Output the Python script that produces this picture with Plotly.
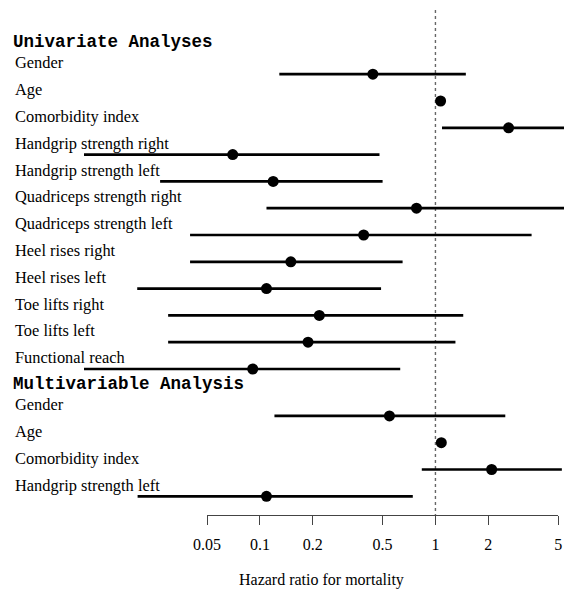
import plotly.graph_objects as go
import numpy as np

section_titles = ["Univariate Analyses", "Multivariable Analysis"]

uni_labels = ["Gender", "Age", "Comorbidity index", "Handgrip strength right",
              "Handgrip strength left", "Quadriceps strength right",
              "Quadriceps strength left", "Heel rises right", "Heel rises left",
              "Toe lifts right", "Toe lifts left", "Functional reach"]
uni_est = [0.44, 1.07, 2.61, 0.070, 0.119, 0.78, 0.39, 0.150, 0.109, 0.218, 0.188, 0.091]
uni_lo = [0.129, 1.04, 1.09, 0.0099, 0.027, 0.109, 0.040, 0.040, 0.020, 0.030, 0.030, 0.0099]
uni_hi = [1.49, 1.10, 6.5, 0.48, 0.50, 6.5, 3.53, 0.65, 0.49, 1.44, 1.30, 0.63]

multi_labels = ["Gender", "Age", "Comorbidity index", "Handgrip strength left"]
multi_est = [0.547, 1.08, 2.09, 0.109]
multi_lo = [0.121, 1.05, 0.836, 0.0201]
multi_hi = [2.50, 1.11, 5.25, 0.743]

ref_value = 1
tick_vals = [0.05, 0.1, 0.2, 0.5, 1, 2, 5]
tick_text = ["0.05", "0.1", "0.2", "0.5", "1", "2", "5"]
x_title = "Hazard ratio for mortality"

# row layout (row units)
uni_rows = list(range(len(uni_labels)))
gap = 1.75
multi_start = uni_rows[-1] + gap
multi_rows = [multi_start + j for j in range(len(multi_labels))]
label_off = 0.42
header_off = 1.2

rows = uni_rows + multi_rows
est = uni_est + multi_est
lo = uni_lo + multi_lo
hi = uni_hi + multi_hi
labels = uni_labels + multi_labels

# pixel geometry
W, H = 564, 594
row_px = 26.8
first_px = 74.2
top_px, bottom_px = 10, 515
left_px, right_px = 84, 564
y_top = -(first_px - top_px) / row_px
y_bot = (bottom_px - first_px) / row_px
xmin, xmax = np.log10(0.00995), np.log10(5.4)

lx, ly = [], []
for l, h, r in zip(lo, hi, rows):
    lx += [l, h, None]
    ly += [r, r, None]

fig = go.Figure()
# reference line at HR = 1
fig.add_trace(go.Scatter(x=[ref_value, ref_value], y=[y_top, y_bot], mode="lines",
                         line=dict(color="#666666", width=1.4, dash="3px,3px"),
                         hoverinfo="skip", showlegend=False))
fig.add_trace(go.Scatter(x=lx, y=ly, mode="lines",
                         line=dict(color="black", width=2.7),
                         hoverinfo="skip", showlegend=False))
fig.add_trace(go.Scatter(x=est, y=rows, mode="markers",
                         marker=dict(color="black", size=11),
                         showlegend=False, cliponaxis=False))

label_x = (13 - left_px) / (right_px - left_px)
for lab, r in zip(labels, rows):
    fig.add_annotation(x=label_x, xref="paper", y=r - label_off, yref="y",
                       text=lab, showarrow=False, xanchor="left", yanchor="middle",
                       font=dict(family="Liberation Serif", size=16.4, color="black"))
head_x = (11 - left_px) / (right_px - left_px)
for title, first in zip(section_titles, [uni_rows[0], multi_rows[0]]):
    fig.add_annotation(x=head_x, xref="paper", y=first - header_off, yref="y",
                       text="<b>" + title + "</b>", showarrow=False,
                       xanchor="left", yanchor="middle",
                       font=dict(family="Liberation Mono", size=17.5, color="black"))

fig.add_annotation(x=(321 - left_px) / (right_px - left_px), xref="paper",
                   y=-(580 - bottom_px) / (bottom_px - top_px), yref="paper",
                   text=x_title, showarrow=False, xanchor="center", yanchor="middle",
                   font=dict(family="Liberation Serif", size=16, color="black"))

d0 = (np.log10(tick_vals[0]) - xmin) / (xmax - xmin)
d1 = (np.log10(tick_vals[-1]) - xmin) / (xmax - xmin)

fig.update_layout(
    width=W, height=H,
    margin=dict(l=left_px, r=W - right_px, t=top_px, b=H - bottom_px, autoexpand=False),
    plot_bgcolor="rgba(0,0,0,0)", paper_bgcolor="white",
    xaxis=dict(type="log", range=[xmin, xmax], domain=[0, 1], automargin=False,
               showticklabels=False, ticks="",
               showgrid=False, zeroline=False, showline=False),
    xaxis2=dict(type="log", range=[np.log10(tick_vals[0]), np.log10(tick_vals[-1])],
                domain=[d0, d1], anchor="y", automargin=False,
                tickvals=tick_vals, ticktext=tick_text,
                ticks="outside", ticklen=9, tickwidth=1.4, tickcolor="#444444",
                showline=True, linecolor="#444444", linewidth=1.4,
                showgrid=False, zeroline=False,
                ticklabelstandoff=6,
                tickfont=dict(family="Liberation Serif", size=16, color="black")),
    yaxis=dict(range=[y_bot, y_top], automargin=False,
               showgrid=False, zeroline=False, showline=False,
               showticklabels=False, ticks=""),
)
# invisible trace so that the ticked axis (xaxis2) is drawn
fig.add_trace(go.Scatter(x=tick_vals, y=[y_bot] * len(tick_vals), xaxis="x2", yaxis="y",
                         mode="markers", marker=dict(opacity=0), hoverinfo="skip",
                         showlegend=False))

fig.write_html("out.html", config={"displayModeBar": False},
               post_script="document.body.style.margin='0';document.body.style.overflow='hidden';")
